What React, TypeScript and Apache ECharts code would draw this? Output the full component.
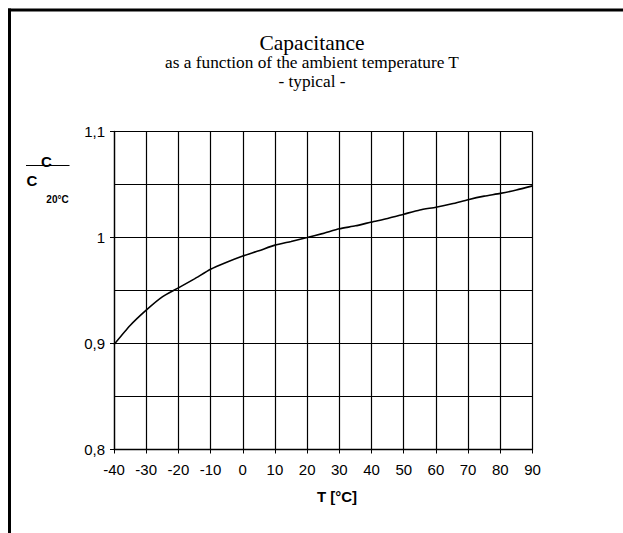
import React, { useEffect, useRef } from "react";
import * as echarts from "echarts";

const temperatures = [-40, -35, -30, -25, -20, -15, -10, -5, 0, 5, 10, 15, 20, 25, 30, 35, 40, 45, 50, 55, 60, 65, 70, 75, 80, 85, 90];
const capacitanceRatio = [0.899, 0.917, 0.9315, 0.944, 0.9525, 0.961, 0.97, 0.9766, 0.9825, 0.9875, 0.9928, 0.9963, 1.0, 1.0039, 1.0082, 1.011, 1.0146, 1.018, 1.022, 1.026, 1.0286, 1.0318, 1.0357, 1.039, 1.0416, 1.0448, 1.0487];

const titleLines = ["Capacitance", "as a function of the ambient temperature T", "- typical -"];
const xAxisName = "T [°C]";
const yAxisNameTop = "C";
const yAxisNameBottom = "C";
const yAxisNameSub = "20°C";

const xMin = -40;
const xMax = 90;
const xStep = 10;
const yMin = 0.8;
const yMax = 1.1;
const yStep = 0.1;

export default function App() {
  const ref = useRef<HTMLDivElement>(null);
  useEffect(() => {
    if (!ref.current) return;
    const chart = echarts.init(ref.current, null, { renderer: "svg" });
    const serif = "'Liberation Serif', 'Times New Roman', serif";
    const sans = "'Liberation Sans', Arial, sans-serif";
    chart.setOption({
      animation: false,
      backgroundColor: "#fff",
      grid: { left: 114, top: 131.5, right: 90.5, bottom: 83.5, containLabel: false },
      xAxis: {
        type: "value",
        min: xMin,
        max: xMax,
        interval: xStep,
        axisLine: { show: true, onZero: false, lineStyle: { color: "#000", width: 1.3 } },
        axisTick: { show: true, length: 4, lineStyle: { color: "#000", width: 1 } },
        axisLabel: { color: "#000", fontFamily: sans, fontSize: 15, margin: 12 },
        splitLine: { show: true, lineStyle: { color: "#000", width: 1.2 } },
      },
      yAxis: {
        type: "value",
        min: yMin,
        max: yMax,
        interval: yStep,
        axisLine: { show: true, onZero: false, lineStyle: { color: "#000", width: 1.3 } },
        axisTick: { show: true, length: 4, lineStyle: { color: "#000", width: 1 } },
        minorTick: { show: false, splitNumber: 2 },
        minorSplitLine: { show: true, lineStyle: { color: "#000", width: 1.2 } },
        axisLabel: {
          color: "#000",
          fontFamily: sans,
          fontSize: 15,
          margin: 9,
          formatter: (v: number) => String(Number(v.toFixed(2))).replace(".", ","),
        },
        splitLine: { show: true, lineStyle: { color: "#000", width: 1.2 } },
      },
      series: [
        {
          type: "line",
          data: temperatures.map((t, i) => [t, capacitanceRatio[i]]),
          showSymbol: false,
          smooth: 0.2,
          lineStyle: { color: "#000", width: 1.6 },
          z: 5,
        },
      ],
      graphic: [
        { type: "line", shape: { x1: 9.5, y1: 8.5, x2: 9.5, y2: 533 }, style: { stroke: "#000", lineWidth: 3 } },
        { type: "line", shape: { x1: 8, y1: 10, x2: 623, y2: 10 }, style: { stroke: "#000", lineWidth: 3 } },
        { type: "text", x: 312, y: 42.5, style: { text: titleLines[0], fontFamily: serif, fontSize: 21.5, lineHeight: 21, fill: "#000", textAlign: "center", textVerticalAlign: "middle" } },
        { type: "text", x: 312, y: 62, style: { text: titleLines[1], fontFamily: serif, fontSize: 17.3, lineHeight: 17, fill: "#000", textAlign: "center", textVerticalAlign: "middle" } },
        { type: "text", x: 312, y: 81, style: { text: titleLines[2], fontFamily: serif, fontSize: 17.3, lineHeight: 17, fill: "#000", textAlign: "center", textVerticalAlign: "middle" } },
        { type: "text", x: 337, y: 496.5, style: { text: xAxisName, fontFamily: sans, fontSize: 15, fontWeight: "bold", fill: "#000", textAlign: "center", textVerticalAlign: "middle" } },
        { type: "text", x: 46.5, y: 161, style: { text: yAxisNameTop, fontFamily: sans, fontSize: 15, fontWeight: "bold", fill: "#000", textAlign: "center", textVerticalAlign: "middle" } },
        { type: "line", shape: { x1: 26, y1: 165.5, x2: 69.5, y2: 165.5 }, style: { stroke: "#000", lineWidth: 1.2 } },
        { type: "text", x: 32, y: 180.5, style: { text: yAxisNameBottom, fontFamily: sans, fontSize: 15, fontWeight: "bold", fill: "#000", textAlign: "center", textVerticalAlign: "middle" } },
        { type: "text", x: 57.5, y: 199.5, style: { text: yAxisNameSub, fontFamily: sans, fontSize: 10, fontWeight: "bold", fill: "#000", textAlign: "center", textVerticalAlign: "middle" } },
      ],
    });
    return () => chart.dispose();
  }, []);
  return <div ref={ref} style={{ position: "fixed", left: 0, top: 0, width: 623, height: 533 }} />;
}
